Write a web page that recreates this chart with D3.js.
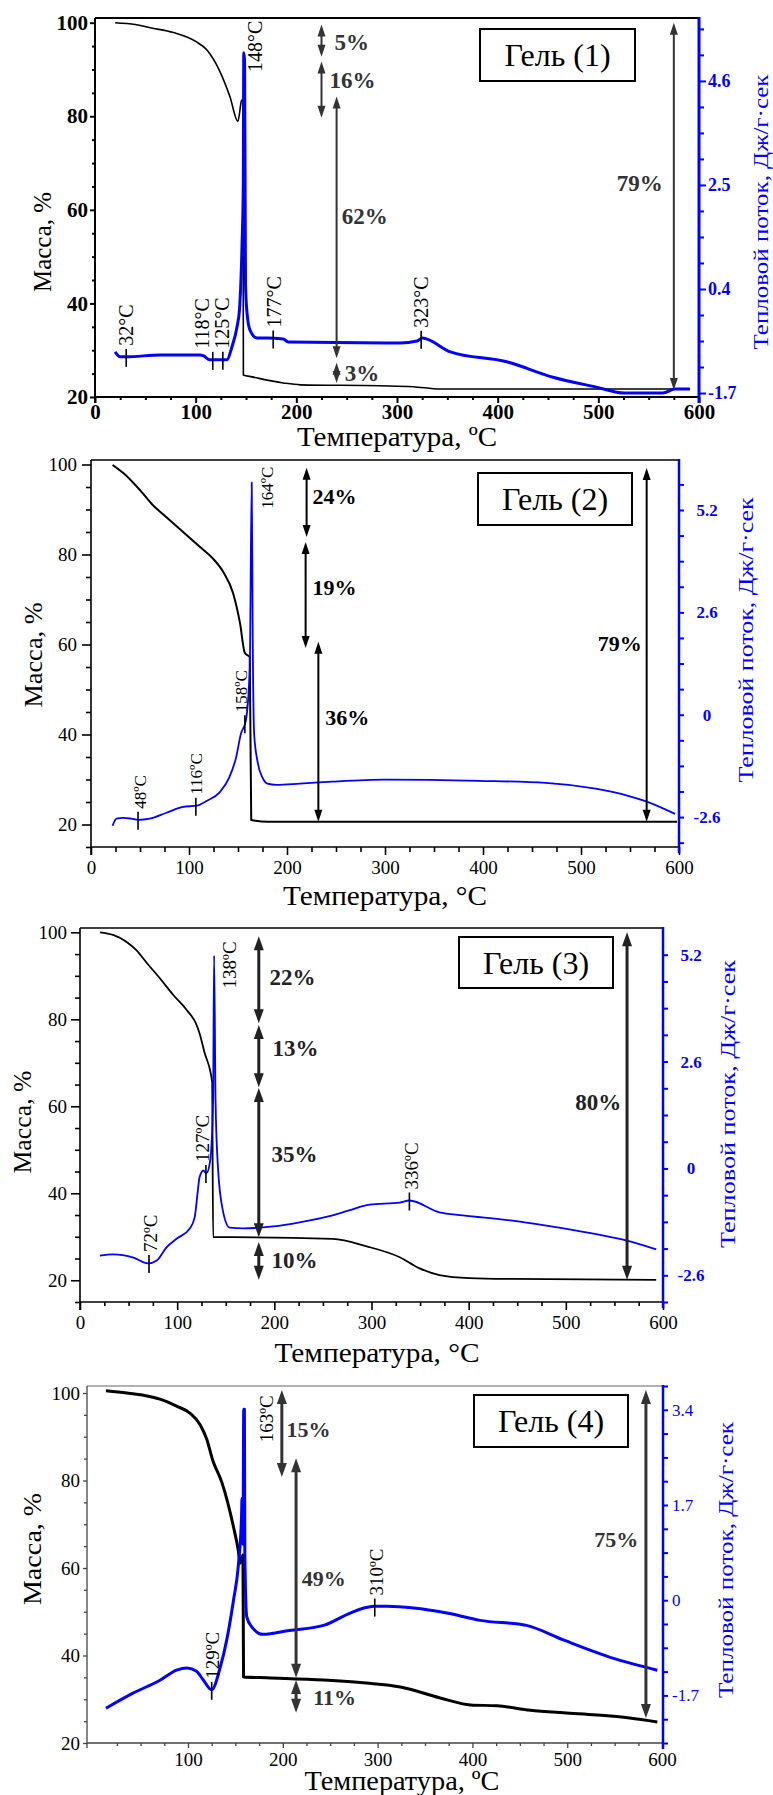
<!DOCTYPE html>
<html>
<head>
<meta charset="utf-8">
<script src="https://cdn.jsdelivr.net/npm/d3@7"></script>
<style>
  body { margin: 0; background: #fff; }
  svg { display: block; }
  text { font-family: "Liberation Serif", "Times New Roman", serif; }
</style>
</head>
<body>
<div id="chart"></div>
<script>
// ---------- data ----------
// [temperature °C, mass %]
var gel1Mass = [[20,100],[40,99.6],[55,98.9],[78,97.9],[100,96],[111,94.2],[124,89.6],[134,84.2],[142,78.9],[145.5,83.3],[147,83.6],[147.4,24.7],[156,24.3],[187,23],[204,22.6],[283,22.4],[316,22.2],[343,21.7],[591,21.7]];
var gel2Mass = [[22,99.9],[33,98.1],[50,94.3],[63,91],[77,88.3],[94,85],[111,81.7],[124,79.2],[135,76.1],[145,71.4],[152,64.8],[157,58.1],[162,57.2],[163.5,21],[181,20.6],[598,20.6]];
var gel3Mass = [[20.5,100],[34,99.4],[48,97.8],[58,95.9],[69,92.9],[82,89.5],[96,85.6],[110,82.1],[120,78.7],[123,76.8],[128,72.5],[136,65.6],[137,29.9],[157,29.9],[260,29.5],[295,27.8],[329,25.3],[349,22.8],[370,21.2],[401,20.5],[445,20.3],[593,20.1]];
var gel4Mass = [[13.5,100.5],[35.5,100],[53,99.5],[70.5,98.6],[88,97],[102,95.4],[113,92.7],[120,89.3],[126,84.7],[136,79.4],[142,74.9],[148,69.4],[153,64.1],[155,61.1],[158,63],[158.6,35.1],[183,34.9],[243,34.4],[288,33.7],[324,32.8],[366,30.3],[398,28.7],[426,28.5],[461,27.5],[496,26.9],[531,26.4],[566,25.7],[595,24.8]];

// [temperature °C, heat flow J/g·s]
var gel1Heat = [[20,-0.87],[25,-0.97],[31,-0.97],[65,-0.93],[104,-0.93],[108,-0.95],[114,-1.03],[131,-1.03],[136,-0.77],[141,-0.37],[143.5,-0.02],[146,1.25],[147.3,2.5],[147.8,5.17],[148.6,5.0],[149.5,0.5],[151,-0.08],[154,-0.43],[161,-0.59],[171,-0.59],[187,-0.61],[192,-0.67],[303,-0.69],[320,-0.65],[325,-0.59],[353,-0.87],[409,-1.07],[455,-1.38],[498,-1.58],[526,-1.7],[564,-1.7],[576,-1.62],[591,-1.62]];
var gel2Heat = [[22,-2.82],[26,-2.64],[33,-2.62],[41,-2.64],[48,-2.67],[60,-2.64],[77,-2.49],[94,-2.34],[108,-2.31],[118,-2.19],[131,-1.98],[141,-1.6],[148,-1.09],[153,-0.48],[158,-0.15],[162,1.19],[164,5.9],[165,2],[166.5,-0.5],[170,-1.2],[175,-1.6],[180,-1.75],[189,-1.78],[213,-1.75],[246,-1.7],[300,-1.65],[396,-1.68],[464,-1.73],[515,-1.88],[548,-2.06],[565,-2.19],[596,-2.52]];
var gel3Heat = [[20.5,-2.12],[34,-2.09],[55,-2.17],[70,-2.31],[79,-2.24],[89,-1.92],[100,-1.7],[113,-1.46],[118,-1.19],[121,-0.6],[123,-0.22],[127,-0.05],[130,-0.12],[134,0.19],[137,1.65],[138,5.18],[139.5,1.65],[142,0.02],[147,-1.02],[154,-1.44],[168,-1.46],[199,-1.41],[226,-1.31],[260,-1.14],[277,-1.02],[298,-0.88],[329,-0.83],[339,-0.78],[370,-1.07],[394,-1.14],[445,-1.27],[480,-1.39],[527,-1.58],[562,-1.75],[593,-1.97]];
var gel4Heat = [[13.5,-1.93],[42,-1.66],[70.5,-1.43],[88,-1.25],[99,-1.21],[109,-1.27],[116,-1.42],[125,-1.6],[134,-1.2],[141,-0.7],[148,0],[153,0.6],[156.5,1.5],[157,1.82],[158,1.0],[158.8,3.41],[159.5,3.41],[160,0.77],[162,-0.3],[167.5,-0.48],[179,-0.61],[207,-0.54],[243,-0.45],[271,-0.23],[288,-0.13],[299,-0.11],[310,-0.11],[338,-0.14],[373,-0.23],[408,-0.36],[457,-0.45],[496,-0.71],[549,-1.04],[595,-1.25]];

// mass-loss arrows: [temperature, mass from, mass to, label, label temperature, label mass]
var gel1Arrows = [[225,99.6,92.7,"5%",238,95.9],[225,91.7,79.7,"16%",233,87.8],[240,84.2,28.3,"62%",245,58.7],[240,27.3,23,"3%",248,25.1],[575,100,21.5,"79%",564,65.8]];
var gel2Arrows = [[220,99.3,83.9,"24%",226,93],[219,82.8,59.2,"19%",226,72.8],[232,60.6,20.6,"36%",239,43.9],[567,99.2,20.6,"79%",562,60.3]];
var gel3Arrows = [[184,99.1,79.1,"22%",195,89.7],[184,78.7,64.4,"13%",198,73.4],[184,64.2,29.9,"35%",197,49],[184,28.8,20.1,"10%",197,24.7],[563,100,20.1,"80%",557,61]];
var gel4Arrows = [[199,100.7,80.8,"15%",204,91.8],[214,85.1,34.9,"49%",220,57.7],[214,34.4,26.9,"11%",232,30.5],[583,100.7,25.7,"75%",575,66.6]];

// marked points on the heat-flow curve: [temperature, label, label temperature]
var gel1Marks = [[31,"32°C",31],[117,"118°C",106],[127,"125°C",126],[177,"177°C",178],[324,"323°C",324]];
var gel2Marks = [[48,"48ºC",50],[107,"116ºC",107],[157,"158ºC",153]];
var gel3Marks = [[71,"72ºC",72],[129.6,"127ºC",125.5],[339,"336ºC",341]];
var gel4Marks = [[125,"129ºC",126],[297,"310ºC",299]];

// peak labels: [temperature, heat flow, label]
var gel1Peak = [159, 4.78, "148°C"];
var gel2Peak = [180, 5.23, "164ºC"];
var gel3Peak = [154, 4.38, "138ºC"];
var gel4Peak = [183, 2.82, "163ºC"];

// tick labels
var tempTicks = [0, 100, 200, 300, 400, 500, 600];
var tempTicks4 = [100, 200, 300, 400, 500, 600];
var massTicks = [20, 40, 60, 80, 100];
var gel1HeatTicks = [-1.7, 0.4, 2.5, 4.6];
var gel2HeatTicks = [-2.6, 0, 2.6, 5.2];
var gel3HeatTicks = [-2.6, 0, 2.6, 5.2];
var gel4HeatTicks = [-1.7, 0, 1.7, 3.4];

var BLUE = "#0000ff";

var svg = d3.select("#chart").append("svg")
  .attr("width", 773)
  .attr("height", 1795);
svg.append("rect").attr("width", 773).attr("height", 1795).attr("fill", "#fff");

// titles: [x, y, font size, text length]
var panels = [
  { legend: "Гель (1)", mass: gel1Mass, heat: gel1Heat, arrows: gel1Arrows, marks: gel1Marks, peak: gel1Peak,
    xTicks: tempTicks, hTicks: gel1HeatTicks, hStep: 0.525,
    left: 95, right: 699, top: 18, bottom: 397,
    xDom: [0, 600], mDom: [20, 101], hDom: [-1.78, 5.87],
    tickFont: 21, tickWeight: "bold", hFont: 18, hWeight: "bold", hAnchor: "start", hDx: 9,
    leftMajor: 5, leftMinor: 3, leftPad: 2, bottomMajor: 6, bottomMinor: 3, bottomPad: 1, rightMajor: 7, rightMinor: 5,
    axisColor: "#000", axisWidth: 2, frameColor: "#000", frameWidth: 2, rightWidth: 3,
    massWidth: 1.6, heatWidth: 3, arrowColor: "#333", arrowWidth: 2, headLen: 12, headW: 8,
    pctFont: 23, markFont: 20,
    leftTitle: [42, 242, 25, 100], rightTitle: [760, 212, 22, 275], bottomTitle: [397, 446, 28, 200, "Температура, ºC"],
    box: [480, 29, 155, 52] },
  { legend: "Гель (2)", mass: gel2Mass, heat: gel2Heat, arrows: gel2Arrows, marks: gel2Marks, peak: gel2Peak,
    xTicks: tempTicks, hTicks: gel2HeatTicks, hStep: 0.65,
    left: 91, right: 679, top: 460, bottom: 847,
    xDom: [0, 600], mDom: [15, 101], hDom: [-3.36, 6.47],
    tickFont: 19, tickWeight: "normal", hFont: 17, hWeight: "bold", hAnchor: "middle", hDx: 28,
    leftMajor: 9, leftMinor: 5, leftPad: 5, bottomMajor: 8, bottomMinor: 5, bottomPad: 6, rightMajor: 5, rightMinor: 5,
    axisColor: "#000", axisWidth: 1.6, frameColor: "#000", frameWidth: 1.6, rightWidth: 2.5,
    massWidth: 2, heatWidth: 1.8, arrowColor: "#000", arrowWidth: 2, headLen: 12, headW: 8,
    pctFont: 22, markFont: 17,
    leftTitle: [33, 655, 25, 105], rightTitle: [745, 640, 22, 285], bottomTitle: [385, 905, 28, 204, "Температура, °C"],
    box: [478, 473, 154, 52] },
  { legend: "Гель (3)", mass: gel3Mass, heat: gel3Heat, arrows: gel3Arrows, marks: gel3Marks, peak: gel3Peak,
    xTicks: tempTicks, hTicks: gel3HeatTicks, hStep: 0.65,
    left: 80, right: 663, top: 928, bottom: 1302,
    xDom: [0, 600], mDom: [15, 101], hDom: [-3.25, 5.85],
    tickFont: 19, tickWeight: "normal", hFont: 17, hWeight: "bold", hAnchor: "middle", hDx: 28,
    leftMajor: 9, leftMinor: 5, leftPad: 4, bottomMajor: 8, bottomMinor: 4, bottomPad: 6, rightMajor: 5, rightMinor: 5,
    axisColor: "#000", axisWidth: 1.6, frameColor: "#000", frameWidth: 1.6, rightWidth: 2.5,
    massWidth: 1.8, heatWidth: 1.8, arrowColor: "#222", arrowWidth: 3, headLen: 14, headW: 10,
    pctFont: 23, markFont: 19,
    leftTitle: [22, 1122, 25, 103], rightTitle: [727, 1104, 22, 288], bottomTitle: [377, 1362, 28, 205, "Температура, °C"],
    box: [459, 937, 154, 51] },
  { legend: "Гель (4)", mass: gel4Mass, heat: gel4Heat, arrows: gel4Arrows, marks: gel4Marks, peak: gel4Peak,
    xTicks: tempTicks4, hTicks: gel4HeatTicks, hStep: 0.425,
    left: 87, right: 663, top: 1386, bottom: 1743,
    xDom: [-6.5, 601], mDom: [20, 101.6], hDom: [-2.55, 3.825],
    tickFont: 19, tickWeight: "normal", hFont: 17, hWeight: "normal", hAnchor: "start", hDx: 9,
    leftMajor: 4, leftMinor: 3, leftPad: 3, bottomMajor: 5, bottomMinor: 3, bottomPad: 5, rightMajor: 5, rightMinor: 5,
    axisColor: "#444", axisWidth: 1.3, frameColor: "#999", frameWidth: 1.5, rightWidth: 2.5,
    massWidth: 3, heatWidth: 3, arrowColor: "#333", arrowWidth: 3, headLen: 14, headW: 10,
    pctFont: 22, markFont: 19,
    leftTitle: [32, 1549, 25, 112], rightTitle: [725, 1560, 22, 276], bottomTitle: [402, 1790, 28, 195, "Температура, ºC"],
    box: [474, 1395, 154, 52] }
];

function interp(data, t) {
  for (var i = 1; i < data.length; i++) {
    if (t <= data[i][0]) {
      var a = data[i - 1], b = data[i];
      return a[1] + (b[1] - a[1]) * (t - a[0]) / (b[0] - a[0]);
    }
  }
  return data[data.length - 1][1];
}

function styleAxis(a, color, width, font, weight) {
  a.select(".domain").remove();
  a.attr("font-size", font).attr("font-weight", weight).attr("color", color);
  a.selectAll("line").attr("stroke-width", width);
}

function drawPanel(p) {
  var x = d3.scaleLinear().domain(p.xDom).range([p.left, p.right]);
  var ym = d3.scaleLinear().domain(p.mDom).range([p.bottom, p.top]);
  var yh = d3.scaleLinear().domain(p.hDom).range([p.bottom, p.top]);
  var g = svg.append("g");

  // minor tick values
  var xMinor = d3.range(0, 601, 25).filter(function (v) { return v % 100 !== 0 && v >= p.xDom[0]; });
  var mMinor = d3.range(15, 101, 5).filter(function (v) { return v % 20 !== 0 && v >= p.mDom[0]; });
  var hMinor = [];
  for (var k = -10; k <= 20; k++) {
    var v = p.hTicks[0] + k * p.hStep;
    if (v >= p.hDom[0] - 1e-6 && v <= p.hDom[1] && k % 4 !== 0) hMinor.push(v);
  }

  // bottom axis
  g.append("g").attr("transform", "translate(0," + p.bottom + ")")
    .call(d3.axisBottom(x).tickValues(xMinor).tickSize(p.bottomMinor).tickFormat(""))
    .call(styleAxis, p.axisColor, p.axisWidth, p.tickFont, p.tickWeight);
  g.append("g").attr("transform", "translate(0," + p.bottom + ")")
    .call(d3.axisBottom(x).tickValues(p.xTicks).tickSize(p.bottomMajor).tickPadding(p.bottomPad).tickFormat(d3.format("d")))
    .call(styleAxis, p.axisColor, p.axisWidth, p.tickFont, p.tickWeight)
    .selectAll("text").attr("fill", "#000");

  // left axis
  g.append("g").attr("transform", "translate(" + p.left + ",0)")
    .call(d3.axisLeft(ym).tickValues(mMinor).tickSize(p.leftMinor).tickFormat(""))
    .call(styleAxis, p.axisColor, p.axisWidth, p.tickFont, p.tickWeight);
  g.append("g").attr("transform", "translate(" + p.left + ",0)")
    .call(d3.axisLeft(ym).tickValues(massTicks).tickSize(p.leftMajor).tickPadding(p.leftPad))
    .call(styleAxis, p.axisColor, p.axisWidth, p.tickFont, p.tickWeight)
    .selectAll("text").attr("fill", "#000");

  // right axis (heat flow)
  g.append("g").attr("transform", "translate(" + p.right + ",0)")
    .call(d3.axisRight(yh).tickValues(hMinor).tickSize(p.rightMinor).tickFormat(""))
    .call(styleAxis, BLUE, 2, p.hFont, p.hWeight);
  g.append("g").attr("transform", "translate(" + p.right + ",0)")
    .call(d3.axisRight(yh).tickValues(p.hTicks).tickSize(p.rightMajor)
      .tickFormat(function (d) { return String(Math.round(d * 10) / 10); }))
    .call(styleAxis, BLUE, 2, p.hFont, p.hWeight)
    .selectAll("text").attr("x", p.hDx).attr("text-anchor", p.hAnchor).attr("fill", BLUE);

  // frame lines
  g.append("line").attr("x1", p.left).attr("x2", p.right).attr("y1", p.top).attr("y2", p.top)
    .attr("stroke", p.frameColor).attr("stroke-width", p.frameWidth);
  g.append("line").attr("x1", p.left).attr("x2", p.right).attr("y1", p.bottom).attr("y2", p.bottom)
    .attr("stroke", p.axisColor).attr("stroke-width", p.axisWidth);
  g.append("line").attr("x1", p.left).attr("x2", p.left).attr("y1", p.top).attr("y2", p.bottom + p.bottomMajor)
    .attr("stroke", p.axisColor).attr("stroke-width", p.axisWidth);
  g.append("line").attr("x1", p.right).attr("x2", p.right).attr("y1", p.top - 1).attr("y2", p.bottom + 6)
    .attr("stroke", BLUE).attr("stroke-width", p.rightWidth);

  // curves
  var massLine = d3.line().curve(d3.curveMonotoneX)
    .x(function (d) { return x(d[0]); }).y(function (d) { return ym(d[1]); });
  var heatLine = d3.line().curve(d3.curveMonotoneX)
    .x(function (d) { return x(d[0]); }).y(function (d) { return yh(d[1]); });
  g.append("path").datum(p.mass).attr("d", massLine)
    .attr("fill", "none").attr("stroke", "#000").attr("stroke-width", p.massWidth).attr("stroke-linejoin", "round");
  g.append("path").datum(p.heat).attr("d", heatLine)
    .attr("fill", "none").attr("stroke", BLUE).attr("stroke-width", p.heatWidth).attr("stroke-linejoin", "round");

  // marked temperatures on the heat-flow curve
  p.marks.forEach(function (m) {
    var cx = x(m[0]), cy = yh(interp(p.heat, m[0]));
    g.append("line").attr("x1", cx).attr("x2", cx).attr("y1", cy - 8).attr("y2", cy + 10)
      .attr("stroke", "#000").attr("stroke-width", 1.6);
    g.append("text")
      .attr("transform", "translate(" + x(m[2]) + "," + (cy - 11) + ") rotate(-90)")
      .attr("dy", "0.35em").attr("font-size", p.markFont).text(m[1]);
  });
  g.append("text")
    .attr("transform", "translate(" + x(p.peak[0]) + "," + yh(p.peak[1]) + ") rotate(-90)")
    .attr("dy", "0.35em").attr("font-size", p.markFont).text(p.peak[2]);

  // mass-loss arrows
  p.arrows.forEach(function (a) {
    var ax = x(a[0]), ya = ym(a[1]), yb = ym(a[2]);
    var dir = yb > ya ? 1 : -1;
    g.append("line").attr("x1", ax).attr("x2", ax)
      .attr("y1", ya + dir * p.headLen * 0.6).attr("y2", yb - dir * p.headLen * 0.6)
      .attr("stroke", p.arrowColor).attr("stroke-width", p.arrowWidth);
    [[ya, -dir], [yb, dir]].forEach(function (h) {
      var tip = h[0], s = h[1];
      g.append("path")
        .attr("d", "M" + ax + "," + tip + "L" + (ax - p.headW / 2) + "," + (tip - s * p.headLen) +
          "L" + (ax + p.headW / 2) + "," + (tip - s * p.headLen) + "Z")
        .attr("fill", p.arrowColor);
    });
    g.append("text")
      .attr("x", x(a[4])).attr("y", ym(a[5])).attr("dy", "0.35em")
      .attr("text-anchor", a[4] > a[0] ? "start" : "end")
      .attr("font-size", p.pctFont).attr("font-weight", "bold").attr("fill", p.arrowColor)
      .text(a[3]);
  });

  // legend box
  var b = p.box;
  g.append("rect").attr("x", b[0]).attr("y", b[1]).attr("width", b[2]).attr("height", b[3])
    .attr("fill", "#fff").attr("stroke", "#000").attr("stroke-width", 2);
  g.append("text").attr("x", b[0] + b[2] / 2).attr("y", b[1] + b[3] / 2).attr("dy", "0.35em")
    .attr("text-anchor", "middle").attr("font-size", 32).text(p.legend);

  // axis titles
  g.append("text")
    .attr("transform", "translate(" + p.leftTitle[0] + "," + p.leftTitle[1] + ") rotate(-90)")
    .attr("dy", "0.35em").attr("text-anchor", "middle").attr("font-size", p.leftTitle[2])
    .attr("textLength", p.leftTitle[3]).attr("lengthAdjust", "spacingAndGlyphs")
    .text("Масса, %");
  g.append("text")
    .attr("transform", "translate(" + p.rightTitle[0] + "," + p.rightTitle[1] + ") rotate(-90)")
    .attr("dy", "0.35em").attr("text-anchor", "middle").attr("font-size", p.rightTitle[2])
    .attr("textLength", p.rightTitle[3]).attr("lengthAdjust", "spacingAndGlyphs")
    .attr("fill", BLUE).text("Тепловой поток, Дж/г·сек");
  g.append("text")
    .attr("x", p.bottomTitle[0]).attr("y", p.bottomTitle[1])
    .attr("text-anchor", "middle").attr("font-size", p.bottomTitle[2])
    .attr("textLength", p.bottomTitle[3]).attr("lengthAdjust", "spacingAndGlyphs")
    .text(p.bottomTitle[4]);
}

panels.forEach(drawPanel);
</script>
</body>
</html>
